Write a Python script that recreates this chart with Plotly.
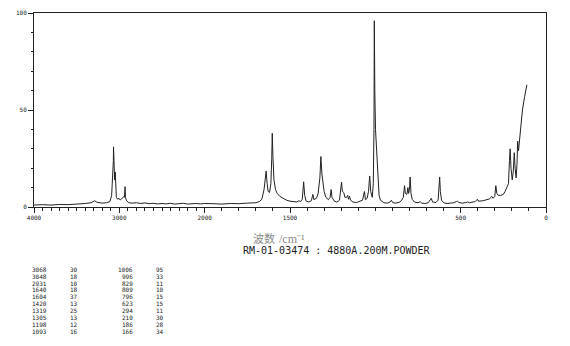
import plotly.graph_objects as go

# Raman spectrum (wavenumber cm-1, relative intensity %)
wavenumber = [4000, 3900, 3800, 3700, 3600, 3500, 3400, 3330, 3290, 3260, 3200, 3150, 3110,
              3090, 3078, 3070, 3068, 3064, 3055, 3048, 3044, 3035, 3020, 3005, 2990, 2965,
              2950, 2940, 2933, 2928, 2915, 2890, 2850, 2800, 2750, 2700, 2650, 2600, 2550,
              2500, 2450, 2400, 2350, 2300, 2250, 2200, 2150, 2100, 2050, 2000, 1950, 1900,
              1850, 1800, 1750, 1700, 1680, 1665, 1652, 1646, 1640, 1634, 1628, 1620, 1612,
              1607, 1604, 1600, 1594, 1585, 1575, 1560, 1540, 1520, 1500, 1480, 1460, 1448,
              1438, 1428, 1420, 1414, 1405, 1390, 1375, 1366, 1360, 1345, 1335, 1325, 1319,
              1313, 1306, 1300, 1290, 1275, 1265, 1259, 1254, 1240, 1225, 1210, 1198, 1193,
              1185, 1178, 1168, 1162, 1157, 1151, 1145, 1130, 1110, 1090, 1075, 1064, 1058,
              1048, 1040, 1033, 1027, 1018, 1012, 1008, 1006, 1003, 999, 996, 990, 984, 978,
              970, 950, 930, 915, 906, 898, 880, 860, 845, 836, 829, 824, 815, 809, 805, 800,
              796, 791, 784, 770, 750, 737, 728, 710, 690, 672, 665, 645, 632, 627, 623, 619,
              612, 600, 580, 560, 540, 525, 519, 510, 490, 470, 460, 448, 430, 415, 402, 395,
              370, 345, 330, 318, 310, 300, 294, 288, 280, 265, 250, 240, 230, 220, 214, 210,
              205, 198, 192, 186, 181, 175, 170, 166, 161, 155, 148, 138, 125, 112]
intensity = [1.0, 1.2, 1.0, 1.3, 1.2, 1.4, 1.8, 2.2, 3.2, 2.4, 2.0, 2.2, 2.8,
             6, 15, 24, 31, 16, 14, 18, 10, 5, 4, 4.5, 3.6, 4.8,
             5.2, 5, 10.5, 5, 3.2, 2.2, 2.0, 2.2, 1.8, 2.1, 1.7, 1.9, 1.6,
             1.8, 1.6, 1.9, 1.5, 1.7, 1.9, 1.5, 1.7, 1.8, 1.6, 1.8, 1.7, 1.5,
             1.8, 1.7, 2.0, 2.2, 2.8, 4, 9, 15, 18.5, 12, 8, 7.5, 12,
             25, 38, 26, 14, 9, 7, 5.5, 4.5, 3.5, 3, 2.8, 2.6, 3.2,
             2.8, 4, 13, 6, 3, 2.6, 3.2, 6.5, 3.8, 4.5, 7, 15, 26,
             17, 13, 8, 5, 3.8, 5, 9, 5, 3, 2.5, 3.5, 12.8, 8,
             7.5, 5, 5, 6, 4, 5.5, 3.5, 2.5, 2.3, 2.8, 3.5, 8, 3.8,
             4.5, 8, 16, 8, 5, 12, 40, 96, 60, 40, 34, 23, 15, 6,
             3.5, 2.2, 2, 2.5, 3.5, 2.2, 2, 2.4, 3.5, 5, 11, 7, 6.5, 10, 7, 9,
             15.5, 7, 4, 2.5, 2.2, 2.7, 2.0, 1.8, 2.2, 4.5, 2.6, 2.3, 3.5, 8, 15.5, 8,
             3.5, 2.2, 1.8, 2.0, 2.2, 2.8, 3.0, 2.3, 2.0, 2.3, 2.6, 2.2, 2.6, 2.8, 4, 3,
             3.2, 3.8, 4.2, 5.5, 4.5, 5.5, 11, 7, 6, 6, 6.5, 8, 10, 12, 24, 30,
             20, 14, 18, 28, 20, 15, 22, 34, 29, 35, 42, 50, 57, 63]

# Peak table
peak_wn_1 = ["3068", "3048", "2931", "1640", "1604", "1420", "1319", "1305", "1198", "1093"]
peak_int_1 = ["30", "18", "10", "18", "37", "13", "25", "13", "12", "16"]
peak_wn_2 = ["1006", "996", "829", "809", "796", "623", "294", "210", "186", "166"]
peak_int_2 = ["95", "33", "11", "10", "15", "15", "11", "30", "28", "34"]

major_wn = [4000, 3000, 2000, 1500, 500, 0]
major_labels = ["4000", "3000", "2000", "1500", "500", "0"]
minor_wn = list(range(4000, -1, -100))

x_title_main = "波数"
x_title_unit = "/cm⁻¹"
subtitle = "RM-01-03474 : 4880A.200M.POWDER"


def to_axis(w):
    # wavenumber scale is compressed by half above 2000 cm-1
    return w if w <= 2000 else 2000 + (w - 2000) / 2


W, H = 570, 346
ML, MR, MT, MB = 34, 24, 9, 139
PW, PH = W - ML - MR, H - MT - MB


def px(xp):
    return (xp - ML) / PW


def py(yp):
    return (H - MB - yp) / PH


fig = go.Figure()
fig.add_trace(go.Scatter(
    x=[to_axis(w) for w in wavenumber], y=intensity, mode="lines",
    line=dict(color="#222222", width=1), hoverinfo="skip", showlegend=False))

mono = "DejaVu Sans Mono"
fig.update_layout(
    width=W, height=H, margin=dict(l=ML, r=MR, t=MT, b=MB),
    paper_bgcolor="white", plot_bgcolor="white", showlegend=False,
    xaxis=dict(range=[to_axis(4000), 0], showgrid=False, zeroline=False,
               showline=True, linecolor="#222", linewidth=1, mirror=True,
               ticks="outside", ticklen=5, tickcolor="#222", tickwidth=1,
               tickmode="array", tickvals=[to_axis(w) for w in major_wn],
               ticktext=major_labels,
               tickfont=dict(family=mono, size=6, color="#222"),
               minor=dict(tickmode="array",
                          tickvals=[to_axis(w) for w in minor_wn if w not in major_wn],
                          ticks="outside", ticklen=2.5, tickcolor="#222", tickwidth=1)),
    yaxis=dict(range=[0, 100], showgrid=False, zeroline=False,
               showline=True, linecolor="#222", linewidth=1, mirror=True,
               ticks="outside", ticklen=5, tickcolor="#222", tickwidth=1,
               tickmode="array", tickvals=[0, 50, 100], ticktext=["0", "50", "100"],
               tickfont=dict(family=mono, size=6, color="#222"),
               minor=dict(tickmode="linear", tick0=0, dtick=10, ticks="outside",
                          ticklen=2, tickcolor="#222", tickwidth=1)),
)

ann = [
    dict(x=px(277), y=py(249), text=x_title_main, showarrow=False, xref="paper",
         yref="paper", xanchor="right",
         font=dict(family="Noto Sans CJK SC", size=11, color="#8a8a8a")),
    dict(x=px(277), y=py(249), text=x_title_unit, showarrow=False, xref="paper",
         yref="paper", xanchor="left",
         font=dict(family="Liberation Serif", size=12, color="#8a8a8a")),
    dict(x=px(337), y=py(259), text=subtitle, showarrow=False, xref="paper", yref="paper",
         font=dict(family=mono, size=10, color="#222")),
]
cols = [(49, peak_wn_1), (80, peak_int_1), (135, peak_wn_2), (166, peak_int_2)]
for xr, vals in cols:
    for i, v in enumerate(vals):
        ann.append(dict(x=px(xr), y=py(276 + i * 7.1), text=v, showarrow=False,
                        xref="paper", yref="paper", xanchor="right",
                        font=dict(family=mono, size=6, color="#222")))
fig.update_layout(annotations=ann)

fig.write_html("out.html")
